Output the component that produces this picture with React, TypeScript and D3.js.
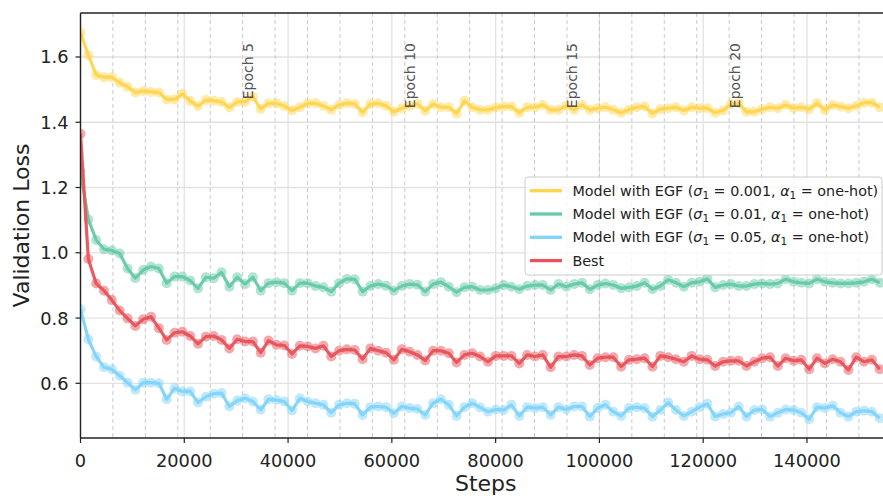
import React from "react";
import * as d3 from "d3";

const EVAL_INTERVAL = 1510;
const STEPS_PER_EPOCH = 6250;
const NUM_EPOCH_LINES = 24;
const LABELED_EPOCHS = [5, 10, 15, 20];

const xTicks = [0, 20000, 40000, 60000, 80000, 100000, 120000, 140000];
const yTicks = [0.6, 0.8, 1.0, 1.2, 1.4, 1.6];

const lossSigma0001 = [
  1.674, 1.606, 1.545, 1.538, 1.538, 1.521, 1.509, 1.491, 1.496, 1.493,
  1.491, 1.47, 1.47, 1.487, 1.465, 1.45, 1.468, 1.466, 1.462, 1.445,
  1.462, 1.463, 1.478, 1.441, 1.458, 1.458, 1.45, 1.436, 1.446, 1.458,
  1.458, 1.45, 1.438, 1.453, 1.458, 1.456, 1.431, 1.456, 1.458, 1.45,
  1.432, 1.443, 1.45, 1.456, 1.435, 1.455, 1.446, 1.446, 1.427, 1.465,
  1.446, 1.438, 1.438, 1.445, 1.448, 1.448, 1.429, 1.446, 1.446, 1.453,
  1.438, 1.438, 1.45, 1.438, 1.453, 1.438, 1.443, 1.446, 1.438, 1.429,
  1.438, 1.446, 1.448, 1.427, 1.44, 1.443, 1.446, 1.436, 1.446, 1.443,
  1.443, 1.429, 1.436, 1.455, 1.458, 1.432, 1.432, 1.44, 1.446, 1.443,
  1.453, 1.443, 1.446, 1.44, 1.458, 1.438, 1.453, 1.448, 1.443, 1.45,
  1.46, 1.46, 1.446,
];

const lossSigma001 = [
  1.25, 1.102, 1.039, 1.011, 1.007, 0.998, 0.952, 0.922, 0.947, 0.958,
  0.952, 0.907, 0.927, 0.927, 0.915, 0.891, 0.925, 0.922, 0.94, 0.896,
  0.925, 0.904, 0.925, 0.884, 0.907, 0.91, 0.907, 0.884, 0.907, 0.907,
  0.898, 0.894, 0.881, 0.907, 0.92, 0.919, 0.881, 0.898, 0.904, 0.899,
  0.884, 0.898, 0.904, 0.902, 0.881, 0.904, 0.91, 0.896, 0.879, 0.894,
  0.896, 0.886, 0.886, 0.891, 0.901, 0.896, 0.888, 0.898, 0.901, 0.901,
  0.886, 0.904, 0.896, 0.904, 0.908, 0.888, 0.901, 0.906, 0.901, 0.891,
  0.894, 0.898, 0.908, 0.888, 0.898, 0.917, 0.908, 0.896, 0.908, 0.911,
  0.92, 0.894, 0.901, 0.904, 0.898, 0.898, 0.904, 0.906, 0.904, 0.906,
  0.919, 0.911, 0.908, 0.906, 0.919, 0.911, 0.908, 0.906, 0.906, 0.908,
  0.911, 0.919, 0.908,
];

const lossSigma005 = [
  0.827, 0.735, 0.682, 0.649, 0.643, 0.623, 0.602, 0.58, 0.602, 0.602,
  0.6, 0.551, 0.585, 0.575, 0.575, 0.541, 0.559, 0.568, 0.57, 0.529,
  0.547, 0.554, 0.544, 0.519, 0.551, 0.549, 0.544, 0.517, 0.554, 0.544,
  0.539, 0.534, 0.51, 0.534, 0.539, 0.537, 0.503, 0.527, 0.529, 0.527,
  0.508, 0.529, 0.524, 0.521, 0.503, 0.539, 0.551, 0.534, 0.5, 0.527,
  0.539, 0.526, 0.513, 0.52, 0.518, 0.534, 0.5, 0.527, 0.524, 0.527,
  0.503, 0.527, 0.52, 0.529, 0.529, 0.498, 0.524, 0.534, 0.513, 0.5,
  0.524, 0.527, 0.524, 0.498, 0.518, 0.541, 0.518, 0.5, 0.513, 0.527,
  0.537, 0.498, 0.506, 0.51, 0.529, 0.498, 0.518, 0.52, 0.498, 0.51,
  0.52, 0.518, 0.51, 0.49, 0.527, 0.524, 0.531, 0.51, 0.498, 0.513,
  0.516, 0.513, 0.493,
];

const lossBest = [
  1.365, 0.981, 0.906, 0.884, 0.855, 0.823, 0.799, 0.776, 0.796, 0.804,
  0.769, 0.733, 0.755, 0.758, 0.745, 0.721, 0.743, 0.745, 0.733, 0.707,
  0.735, 0.728, 0.728, 0.694, 0.731, 0.718, 0.716, 0.69, 0.715, 0.713,
  0.707, 0.715, 0.682, 0.7, 0.704, 0.702, 0.674, 0.707, 0.7, 0.694,
  0.672, 0.704, 0.697, 0.687, 0.67, 0.7, 0.7, 0.692, 0.664, 0.687,
  0.692, 0.682, 0.666, 0.684, 0.684, 0.684, 0.661, 0.687, 0.682, 0.687,
  0.649, 0.682, 0.682, 0.687, 0.684, 0.656, 0.677, 0.68, 0.68, 0.651,
  0.672, 0.674, 0.677, 0.651, 0.684, 0.68, 0.674, 0.666, 0.684, 0.674,
  0.672, 0.653, 0.666, 0.669, 0.669, 0.653, 0.666, 0.677, 0.68, 0.653,
  0.677, 0.669, 0.672, 0.643, 0.677, 0.661, 0.674, 0.666, 0.641, 0.68,
  0.666, 0.672, 0.643,
];

const seriesNames = ["0.001", "0.01", "0.05", "Best"];
const seriesColors = ["#FFD54F", "#66C9A8", "#81D4FA", "#E8525A"];
const seriesValues = [lossSigma0001, lossSigma001, lossSigma005, lossBest];

const W = 883;
const H = 496;
const plot = { left: 80.5, right: 883, top: 13, bottom: 438 };
const FONT = "'DejaVu Sans', Verdana, sans-serif";

export default function App() {
  const x = d3.scaleLinear().domain([0, 154650]).range([plot.left, plot.right]);
  const y = d3.scaleLinear().domain([0.4324, 1.7348]).range([plot.bottom, plot.top]);

  const line = d3
    .line<number>()
    .x((_, i) => x(i * EVAL_INTERVAL))
    .y((d) => y(d));

  const epochs = d3.range(1, NUM_EPOCH_LINES + 1);

  const legendX = 525;
  const legendY = 177;
  const rowH = 23.3;

  const legendLabel = (name: string) => {
    if (name === "Best") return <tspan>Best</tspan>;
    return (
      <>
        <tspan>Model with EGF (</tspan>
        <tspan fontStyle="italic">σ</tspan>
        <tspan fontSize="10.5" dy="3">1</tspan>
        <tspan dy="-3">{` = ${name}, `}</tspan>
        <tspan fontStyle="italic">α</tspan>
        <tspan fontSize="10.5" dy="3">1</tspan>
        <tspan dy="-3">{" = one-hot)"}</tspan>
      </>
    );
  };

  return (
    <svg
      width={W}
      height={H}
      style={{ position: "absolute", left: 0, top: 0, background: "#fff" }}
      fontFamily={FONT}
    >
      <defs>
        <clipPath id="plotClip">
          <rect x={plot.left} y={plot.top} width={plot.right - plot.left + 2} height={plot.bottom - plot.top} />
        </clipPath>
      </defs>
      <rect x={0} y={0} width={W} height={H} fill="#fff" />

      {/* solid grid */}
      <g stroke="#e2e2e2" strokeWidth={1.3}>
        {xTicks.map((t) => (
          <line key={"gx" + t} x1={x(t)} x2={x(t)} y1={plot.top} y2={plot.bottom} />
        ))}
        {yTicks.map((t) => (
          <line key={"gy" + t} x1={plot.left} x2={plot.right} y1={y(t)} y2={y(t)} />
        ))}
      </g>

      {/* epoch dashed lines */}
      <g stroke="#c4c4c4" strokeWidth={0.9} strokeDasharray="4,3">
        {epochs.map((e) => (
          <line
            key={"ep" + e}
            x1={x(e * STEPS_PER_EPOCH)}
            x2={x(e * STEPS_PER_EPOCH)}
            y1={plot.top}
            y2={plot.bottom}
          />
        ))}
      </g>

      {/* series */}
      <g clipPath="url(#plotClip)">
        {seriesValues.map((vals, si) => (
          <g key={"s" + si}>
            <path d={line(vals) || ""} fill="none" stroke={seriesColors[si]} strokeWidth={3.2} strokeOpacity={0.95} strokeLinejoin="round" />
            {vals.map((v, i) => (
              <circle
                key={i}
                cx={x(i * EVAL_INTERVAL)}
                cy={y(v)}
                r={5}
                fill={seriesColors[si]}
                fillOpacity={0.5}
              />
            ))}
          </g>
        ))}
      </g>

      {/* epoch labels */}
      {LABELED_EPOCHS.map((e) => {
        const px = x(e * STEPS_PER_EPOCH) + 10.5;
        return (
          <text
            key={"el" + e}
            transform={`translate(${px},43) rotate(-90)`}
            textAnchor="end"
            fontSize={14}
            fill="#555"
          >
            {`Epoch ${e}`}
          </text>
        );
      })}

      {/* spines */}
      <g stroke="#222" strokeWidth={1.4} fill="none">
        <line x1={plot.left} x2={plot.left} y1={plot.top} y2={plot.bottom} />
        <line x1={plot.left} x2={plot.right + 2} y1={plot.bottom} y2={plot.bottom} />
        <line x1={plot.left} x2={plot.right + 2} y1={plot.top} y2={plot.top} />
      </g>

      {/* ticks */}
      <g stroke="#222" strokeWidth={1.2}>
        {xTicks.map((t) => (
          <line key={"tx" + t} x1={x(t)} x2={x(t)} y1={plot.bottom} y2={plot.bottom + 5} />
        ))}
        {yTicks.map((t) => (
          <line key={"ty" + t} x1={plot.left - 5} x2={plot.left} y1={y(t)} y2={y(t)} />
        ))}
      </g>
      <g fontSize={17.8} fill="#222">
        {xTicks.map((t) => (
          <text key={"lx" + t} x={x(t)} y={467} textAnchor="middle">
            {String(t)}
          </text>
        ))}
        {yTicks.map((t) => (
          <text key={"ly" + t} x={68.5} y={y(t) + 6.5} textAnchor="end">
            {t.toFixed(1)}
          </text>
        ))}
      </g>

      {/* axis labels */}
      <text x={(plot.left + plot.right) / 2 + 4} y={491} textAnchor="middle" fontSize={22} fill="#222">
        Steps
      </text>
      <text
        transform={`translate(28.5,${(plot.top + plot.bottom) / 2}) rotate(-90)`}
        textAnchor="middle"
        fontSize={22}
        fill="#222"
      >
        Validation Loss
      </text>

      {/* legend */}
      <g>
        <rect
          x={legendX}
          y={legendY}
          width={357}
          height={98}
          rx={3}
          fill="#fff"
          fillOpacity={0.8}
          stroke="#cccccc"
          strokeWidth={1}
        />
        {seriesNames.map((name, i) => {
          const cy = legendY + 13.7 + i * rowH;
          return (
            <g key={"lg" + i}>
              <line x1={530} x2={562} y1={cy} y2={cy} stroke={seriesColors[i]} strokeWidth={3.3} />
              <text x={572.5} y={cy + 5} fontSize={14.3} fill="#222">
                {legendLabel(name)}
              </text>
            </g>
          );
        })}
      </g>
    </svg>
  );
}
